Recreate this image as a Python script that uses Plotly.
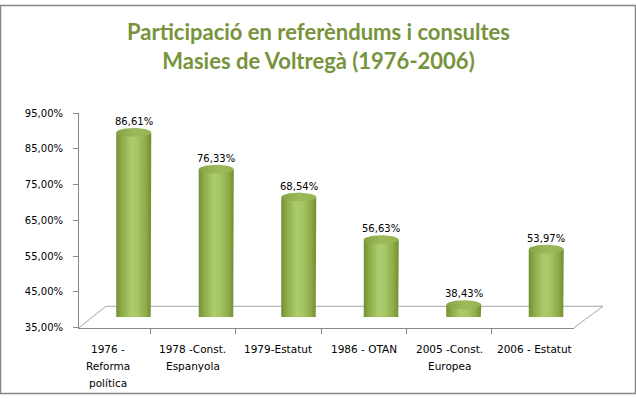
import numpy as np
import plotly.graph_objects as go

# ---------------- data ----------------
categories = ["1976 - Reforma política", "1978 -Const. Espanyola", "1979-Estatut",
              "1986 - OTAN", "2005 -Const. Europea", "2006 - Estatut"]
category_label_lines = [["1976 -", "Reforma", "política"], ["1978 -Const.", "Espanyola"],
                        ["1979-Estatut"], ["1986 - OTAN"], ["2005 -Const.", "Europea"],
                        ["2006 - Estatut"]]
participation = [86.61, 76.33, 68.54, 56.63, 38.43, 53.97]
y_ticks = [35, 45, 55, 65, 75, 85, 95]
y_tick_labels = ["35,00%", "45,00%", "55,00%", "65,00%", "75,00%", "85,00%", "95,00%"]
title_lines = ["Participació en referèndums i consultes", "Masies de Voltregà (1976-2006)"]

# ---------------- geometry (pixels) ----------------
W, H = 636, 399
PX0, PX1 = 79, 574      # front plot area x
PY0, PY1 = 111, 331     # front plot area y (top, bottom)
DEPTH_X, DEPTH_Y = 27, 22
MID_X, MID_Y = DEPTH_X / 2, DEPTH_Y / 2
YMIN, YMAX = 35, 95
CYL_HALF_PX = 17.5
ELL_RY_PX = 4.6
LABEL_TOP_PX = 353
LABEL_LINE_PX = 17.5

def fx(px):
    return px / W

def fy(py):
    return 1 - py / H

n = len(categories)
cat_px = (PX1 - PX0) / n
val_px = (PY1 - PY0) / (YMAX - YMIN)
a = CYL_HALF_PX / cat_px       # ellipse half-width in category units
b = ELL_RY_PX / val_px         # ellipse half-height in value units

GRID = "#898989"
FLOOR = "#a6a6a6"
FONT = "DejaVu Sans"

body_scale = [[0, "#748f33"], [0.15, "#8bab45"], [0.42, "#abcb6d"], [0.6, "#a7c667"],
              [0.85, "#8dab47"], [1, "#728d32"]]
cap_scale = [[0, "#86a242"], [0.5, "#9dba5b"], [1, "#97b453"]]

fig = go.Figure()

# invisible anchor trace for the category axis
fig.add_trace(go.Scatter(x=categories, y=participation, mode="markers",
                         marker=dict(opacity=0), hoverinfo="skip", showlegend=False,
                         xaxis="x", yaxis="y"))

t_full = np.linspace(0, 2 * np.pi, 80)
t_half = np.linspace(0, np.pi, 40)
for i, v in enumerate(participation):
    xs = [i - a, i - a, i + a, i + a] + list(i + a * np.cos(t_half))
    ys = [YMIN, v, v, YMIN] + list(YMIN - b * np.sin(t_half))
    fig.add_trace(go.Scatter(x=xs, y=ys, mode="lines", line=dict(width=0),
                             fill="toself",
                             fillgradient=dict(type="horizontal", colorscale=body_scale),
                             hoverinfo="skip", showlegend=False, xaxis="x2", yaxis="y2"))
    fig.add_trace(go.Scatter(x=list(i + a * np.cos(t_full)), y=list(v + b * np.sin(t_full)),
                             mode="lines", line=dict(width=0), fill="toself",
                             fillgradient=dict(type="horizontal", colorscale=cap_scale),
                             hoverinfo="skip", showlegend=False, xaxis="x2", yaxis="y2"))

annotations = []
for i, v in enumerate(participation):
    annotations.append(dict(x=i, y=v + b, xref="x2", yref="y2",
                            text=f"{v:.2f}".replace(".", ",") + "%",
                            showarrow=False, yanchor="bottom", xanchor="center", yshift=-1,
                            font=dict(family=FONT, size=10, color="#000000")))

for cat, lines in zip(categories, category_label_lines):
    for k, line in enumerate(lines):
        annotations.append(dict(x=cat, y=fy(LABEL_TOP_PX + k * LABEL_LINE_PX),
                                xref="x", yref="paper", text=line, showarrow=False,
                                xanchor="center", yanchor="middle",
                                font=dict(family=FONT, size=10.5, color="#000000")))

annotations.append(dict(x=0.5, y=fy(42), xref="paper", yref="paper",
                        text="<br>".join(title_lines), showarrow=False,
                        xanchor="center", yanchor="middle",
                        font=dict(family="Lato", size=22, color="#77933C", weight="bold")))

shapes = [
    dict(type="path", xref="paper", yref="paper", layer="below",
         path=(f"M {fx(PX0)},{fy(PY1)} L {fx(PX0 + DEPTH_X)},{fy(PY1 - DEPTH_Y)} "
               f"L {fx(PX1 + DEPTH_X + 2)},{fy(PY1 - DEPTH_Y)} L {fx(PX1)},{fy(PY1)}"),
         line=dict(color=FLOOR, width=1)),
    dict(type="rect", xref="paper", yref="paper", x0=fx(0.5), y0=fy(398.5),
         x1=fx(635.5), y1=fy(0.5), line=dict(color="#868686", width=1.5)),
]

fig.update_layout(
    width=W, height=H,
    margin=dict(l=0, r=0, t=0, b=0),
    paper_bgcolor="white", plot_bgcolor="rgba(0,0,0,0)",
    showlegend=False,
    xaxis=dict(domain=[fx(PX0), fx(PX1)], type="category", tickson="boundaries",
               ticks="outside", ticklen=5, tickcolor=GRID, showline=True, linecolor=GRID,
               linewidth=1, showgrid=False, zeroline=False, fixedrange=True,
               showticklabels=False, anchor="y"),
    yaxis=dict(domain=[fy(PY1), fy(PY0)], range=[YMIN, YMAX], tickvals=y_ticks,
               ticktext=y_tick_labels, ticks="outside", ticklen=5, tickcolor=GRID,
               showline=True, linecolor=GRID, linewidth=1, showgrid=False, zeroline=False,
               tickfont=dict(family=FONT, size=10, color="#000000"), anchor="x",
               ticklabelstandoff=8, fixedrange=True),
    xaxis2=dict(domain=[fx(PX0 + MID_X), fx(PX1 + MID_X)], range=[-0.5, n - 0.5],
                visible=False, anchor="y2", fixedrange=True),
    yaxis2=dict(domain=[fy(PY1 - MID_Y), fy(PY0 - MID_Y)], range=[YMIN, YMAX],
                visible=False, anchor="x2", fixedrange=True),
    annotations=annotations,
    shapes=shapes,
)

fig.write_html("out.html", config={"displayModeBar": False},
               post_script="document.body.style.margin='0';document.body.style.overflow='hidden';")
